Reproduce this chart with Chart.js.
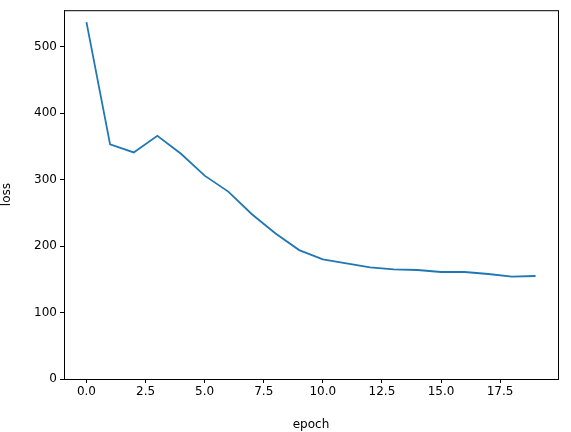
<!DOCTYPE html>
<html>
<head>
<meta charset="utf-8">
<script src="https://cdn.jsdelivr.net/npm/chart.js@4"></script>
<style>
  html, body { margin: 0; padding: 0; background: #fff; }
  #wrap { width: 571px; height: 432px; }
</style>
</head>
<body>
<div id="wrap"><canvas id="chart"></canvas></div>
<script>
// Chart data
const epochs = [0, 1, 2, 3, 4, 5, 6, 7, 8, 9, 10, 11, 12, 13, 14, 15, 16, 17, 18, 19];
const loss = [537, 353, 341, 366, 339, 306, 282, 248, 219, 194, 180, 174, 168, 165, 164, 161, 161, 158, 154, 155];
const xTicks = [0, 2.5, 5, 7.5, 10, 12.5, 15, 17.5];
const yTicks = [0, 100, 200, 300, 400, 500];

// draws the full frame around the plot area
const frame = {
    id: 'frame',
    afterDraw(chart) {
        const a = chart.chartArea, ctx = chart.ctx;
        ctx.save();
        ctx.strokeStyle = '#000';
        ctx.lineWidth = 1;
        ctx.strokeRect(a.left + 0.5, a.top + 0.5, a.right - a.left, a.bottom - a.top);
        ctx.restore();
    }
};

Chart.defaults.font.family = 'DejaVu Sans';
Chart.defaults.font.size = 12;
Chart.defaults.color = '#000';

new Chart(document.getElementById('chart'), {
    type: 'line',
    data: {
        datasets: [{
            data: epochs.map((e, i) => ({ x: e, y: loss[i] })),
            borderColor: '#1f77b4',
            borderWidth: 1.8,
            pointRadius: 0,
            tension: 0,
            fill: false
        }]
    },
    options: {
        responsive: true,
        maintainAspectRatio: false,
        animation: false,
        layout: { padding: { top: 10, right: 13, left: 0, bottom: 0 } },
        plugins: { legend: { display: false }, tooltip: { enabled: false } },
        scales: {
            x: {
                type: 'linear',
                min: -0.95,
                max: 19.95,
                afterBuildTicks: axis => { axis.ticks = xTicks.map(v => ({ value: v })); },
                afterFit: axis => { axis.height = 53; },
                ticks: { callback: v => v.toFixed(1), maxRotation: 0, padding: 2 },
                grid: { drawOnChartArea: false, tickLength: 4, tickColor: '#000' },
                border: { color: '#000' },
                title: { display: true, text: 'epoch', padding: { top: 2, bottom: 0 } }
            },
            y: {
                min: 0,
                max: 555,
                afterBuildTicks: axis => { axis.ticks = yTicks.map(v => ({ value: v })); },
                afterFit: axis => { axis.width = 64; },
                ticks: { padding: 3 },
                grid: { drawOnChartArea: false, tickLength: 4, tickColor: '#000' },
                border: { color: '#000' },
                title: { display: true, text: 'loss', padding: { top: 0, bottom: 4 } }
            }
        }
    },
    plugins: [frame]
});
</script>
</body>
</html>
